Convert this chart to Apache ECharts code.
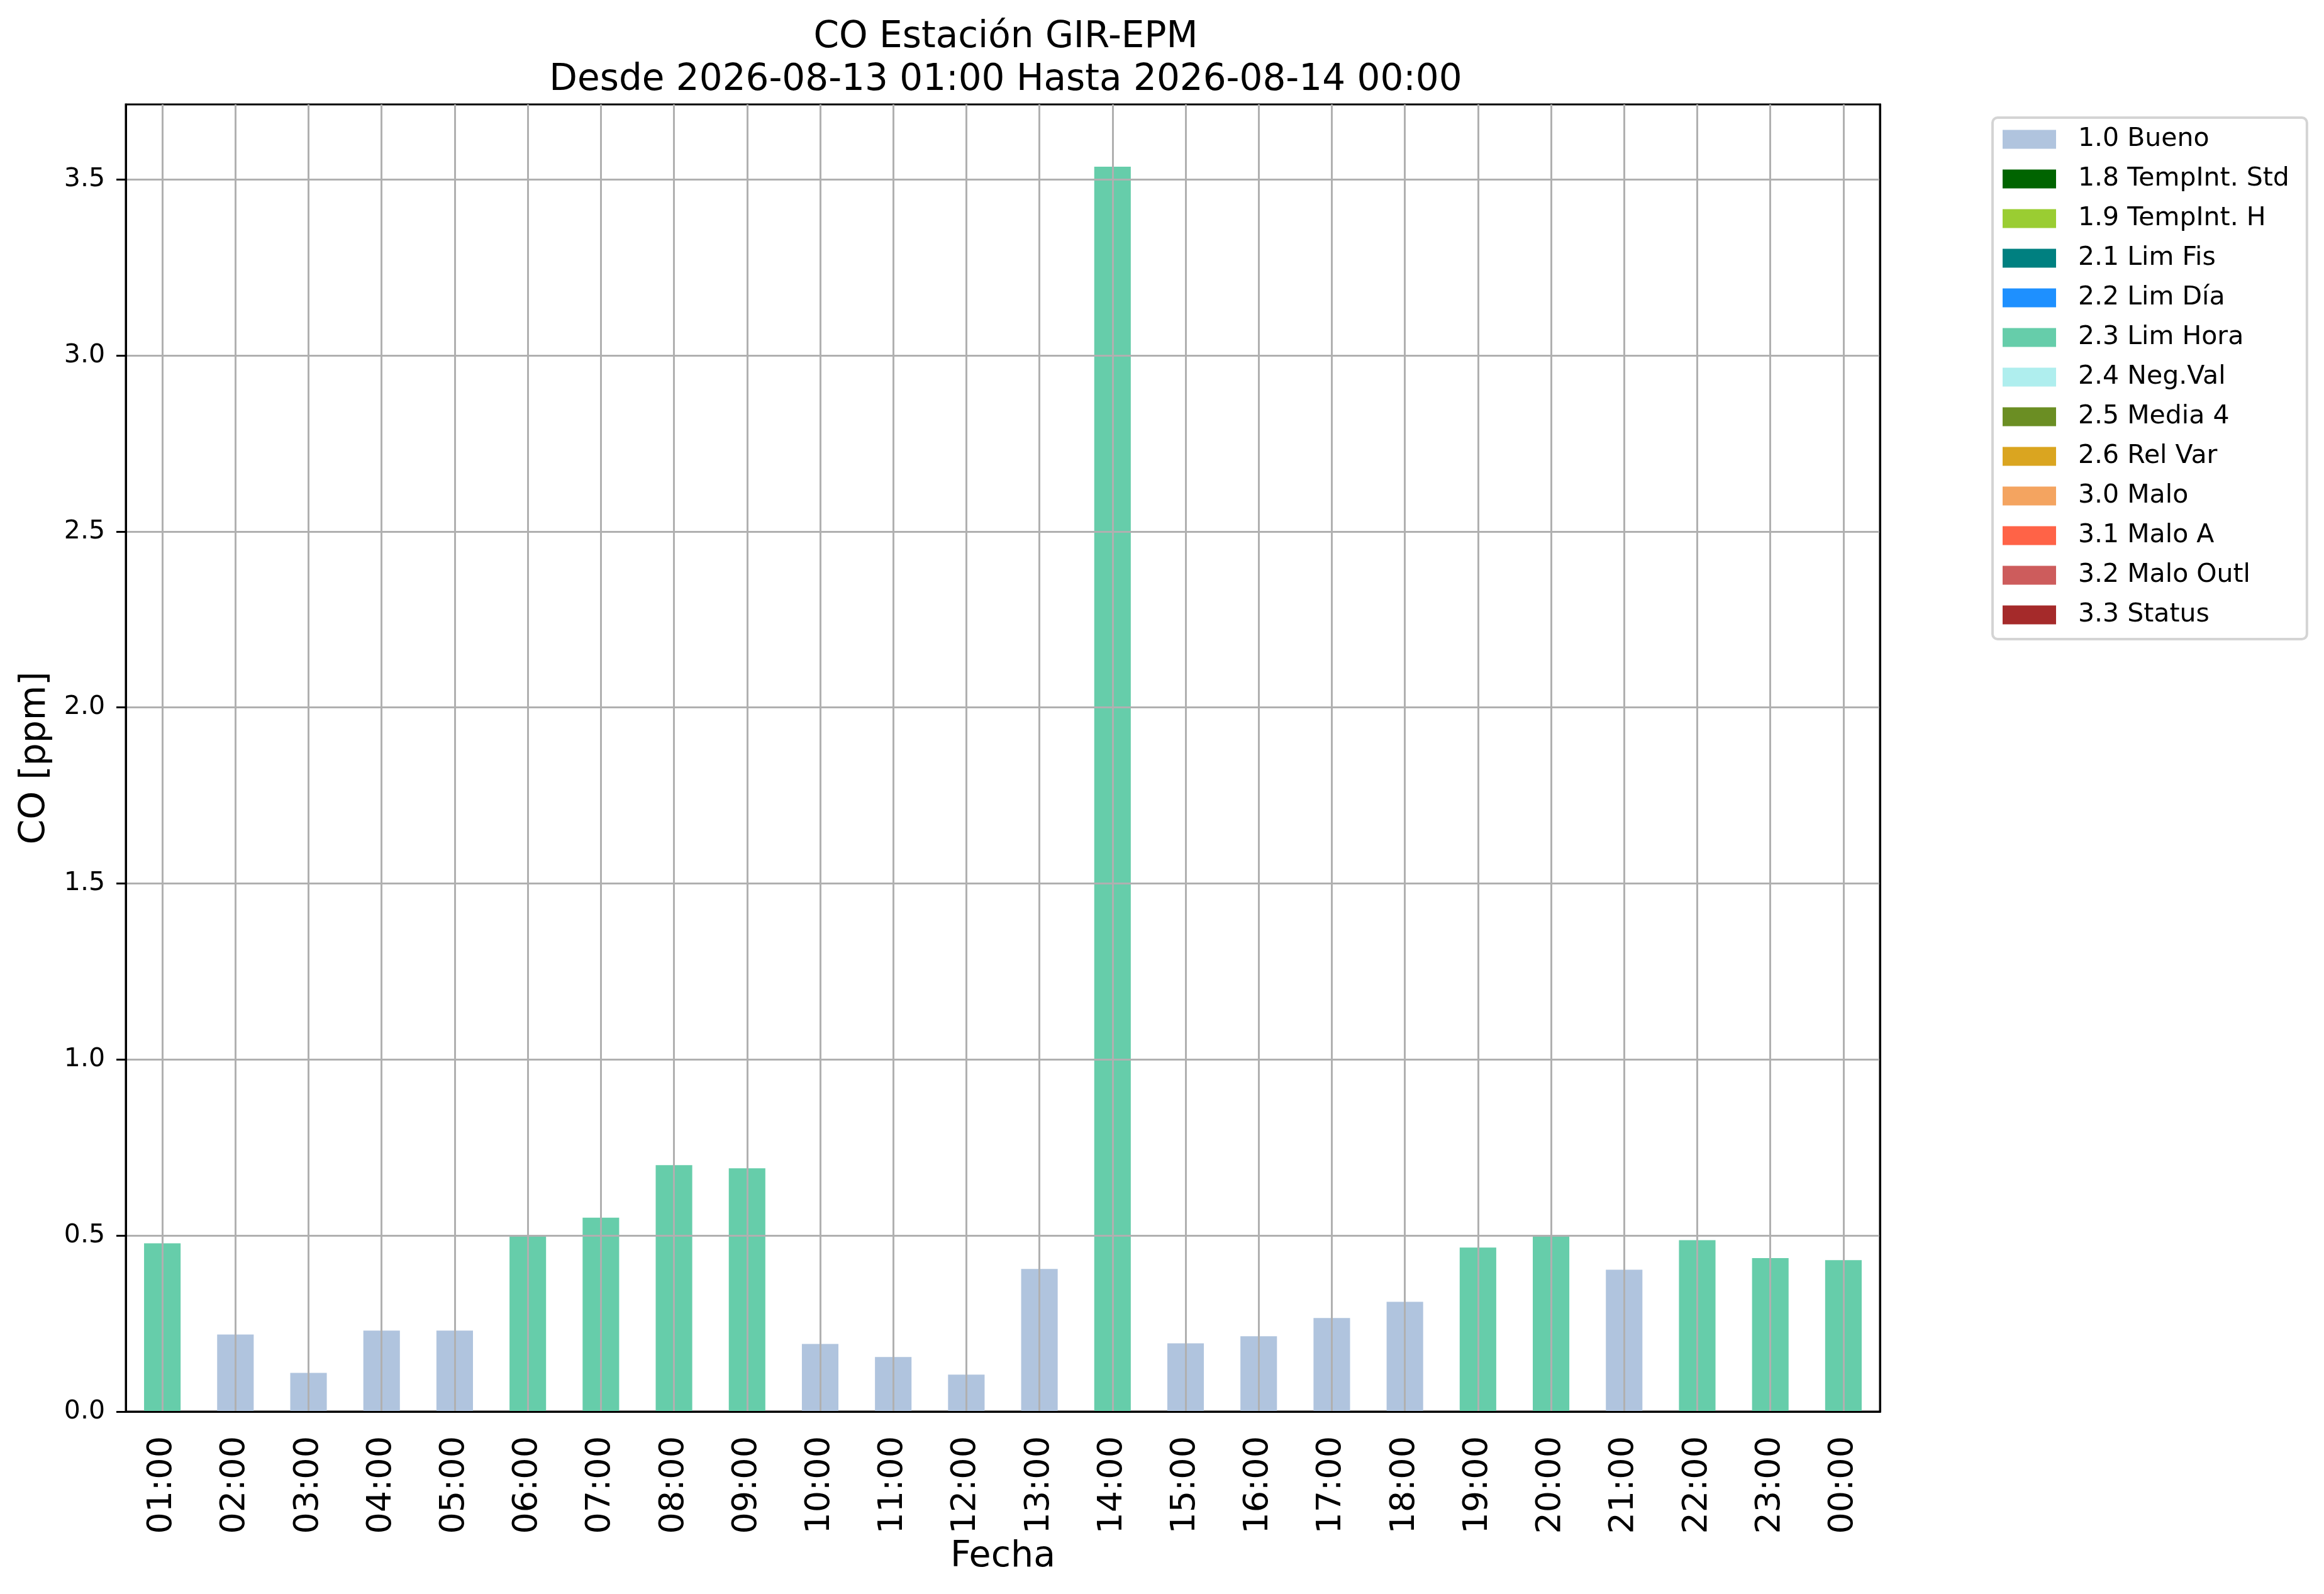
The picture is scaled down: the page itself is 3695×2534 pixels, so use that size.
<!DOCTYPE html>
<html>
<head>
<meta charset="utf-8">
<script src="https://cdn.jsdelivr.net/npm/echarts@6/dist/echarts.min.js"></script>
<style>
html,body{margin:0;padding:0;background:#fff;}
#chart{width:3695px;height:2534px;}
</style>
</head>
<body>
<div id="chart"></div>
<script>
const hours = ['01:00','02:00','03:00','04:00','05:00','06:00','07:00','08:00','09:00','10:00','11:00','12:00','13:00','14:00','15:00','16:00','17:00','18:00','19:00','20:00','21:00','22:00','23:00','00:00'];
const coValues = [0.478,0.219,0.110,0.230,0.230,0.499,0.551,0.700,0.691,0.192,0.155,0.105,0.405,3.536,0.194,0.214,0.266,0.312,0.466,0.497,0.403,0.487,0.436,0.430];
const hourFlags = ['2.3','1.0','1.0','1.0','1.0','2.3','2.3','2.3','2.3','1.0','1.0','1.0','1.0','2.3','1.0','1.0','1.0','1.0','2.3','2.3','1.0','2.3','2.3','2.3'];
const flagCodes = ['1.0','1.8','1.9','2.1','2.2','2.3','2.4','2.5','2.6','3.0','3.1','3.2','3.3'];
const flagNames = ['1.0 Bueno','1.8 TempInt. Std','1.9 TempInt. H','2.1 Lim Fis','2.2 Lim Día','2.3 Lim Hora','2.4 Neg.Val','2.5 Media 4','2.6 Rel Var','3.0 Malo','3.1 Malo A','3.2 Malo Outl','3.3 Status'];
const flagColors = ['#B0C4DE','#006400','#9ACD32','#008080','#1E90FF','#66CDAA','#AFEEEE','#6B8E23','#DAA520','#F4A460','#FF6347','#CD5C5C','#A52A2A'];
const yTicks = [0,0.5,1.0,1.5,2.0,2.5,3.0,3.5];
const yMax = 3.713;

const FONT = 'DejaVu Sans';
const chart = echarts.init(document.getElementById('chart'), null, {renderer:'canvas'});

const series = flagCodes.map((code, k) => ({
  name: flagNames[k],
  type: 'bar',
  stack: 'all',
  barWidth: '50%',
  itemStyle: {color: flagColors[k]},
  data: coValues.map((v, i) => hourFlags[i] === code ? v : '-'),
  animation: false
}));

chart.setOption({
  animation: false,
  backgroundColor: '#ffffff',
  title: {
    text: 'CO Estación GIR-EPM\nDesde 2026-08-13 01:00 Hasta 2026-08-14 00:00',
    left: 1594, top: 21, textAlign: 'center',
    textStyle: {fontFamily: FONT, fontSize: 58, fontWeight: 'normal', color: '#000', lineHeight: 68}
  },
  legend: {
    orient: 'vertical',
    left: 3168, top: 187,
    data: flagNames,
    icon: 'rect',
    itemWidth: 85, itemHeight: 30,
    itemGap: 22,
    padding: [14, 28, 18, 16],
    backgroundColor: '#ffffff',
    borderColor: '#d4d4d4', borderWidth: 4, borderRadius: 8,
    textStyle: {fontFamily: FONT, fontSize: 41, color: '#000', lineHeight: 41, padding: [0,0,0,30]},
    selectedMode: false
  },
  grid: {
    left: 200, right: 706, top: 166, bottom: 290,
    show: true, borderColor: '#000', borderWidth: 3, backgroundColor: '#fff'
  },
  xAxis: [{
    type: 'category',
    data: hours,
    z: 5,
    name: 'Fecha', nameLocation: 'middle', nameGap: 200,
    nameTextStyle: {fontFamily: FONT, fontSize: 57, color: '#000'},
    axisLine: {lineStyle: {color: '#000', width: 3}},
    axisTick: {alignWithLabel: true, length: 15, lineStyle: {color: '#000', width: 3}},
    axisLabel: {rotate: 90, margin: 39, fontFamily: FONT, fontSize: 54, color: '#000', interval: 0},
    splitLine: {show: true, alignWithLabel: true, interval: 0, lineStyle: {color: '#b0b0b0', width: 3}}
  }, {
    type: 'category',
    data: hours,
    position: 'top',
    z: 6,
    axisLine: {show: true, lineStyle: {color: '#000', width: 3}},
    axisTick: {show: false},
    axisLabel: {show: false},
    splitLine: {show: false}
  }],
  yAxis: [{
    type: 'value',
    min: 0, max: yMax, interval: 0.5,
    z: 5,
    name: 'CO [ppm]', nameLocation: 'middle', nameGap: 115,
    nameTextStyle: {fontFamily: FONT, fontSize: 57, color: '#000'},
    axisLine: {show: true, lineStyle: {color: '#000', width: 3}},
    axisTick: {show: true, length: 15, customValues: yTicks, lineStyle: {color: '#000', width: 3}},
    axisLabel: {margin: 33, fontFamily: FONT, fontSize: 41, color: '#000', customValues: yTicks,
      formatter: v => Number(v).toFixed(1)},
    splitLine: {show: true, lineStyle: {color: '#b0b0b0', width: 3}}
  }, {
    type: 'value',
    min: 0, max: yMax, interval: 0.5,
    position: 'right',
    z: 6,
    axisLine: {show: true, lineStyle: {color: '#000', width: 3}},
    axisTick: {show: false},
    axisLabel: {show: false},
    splitLine: {show: false}
  }],
  series: series
});
</script>
</body>
</html>
